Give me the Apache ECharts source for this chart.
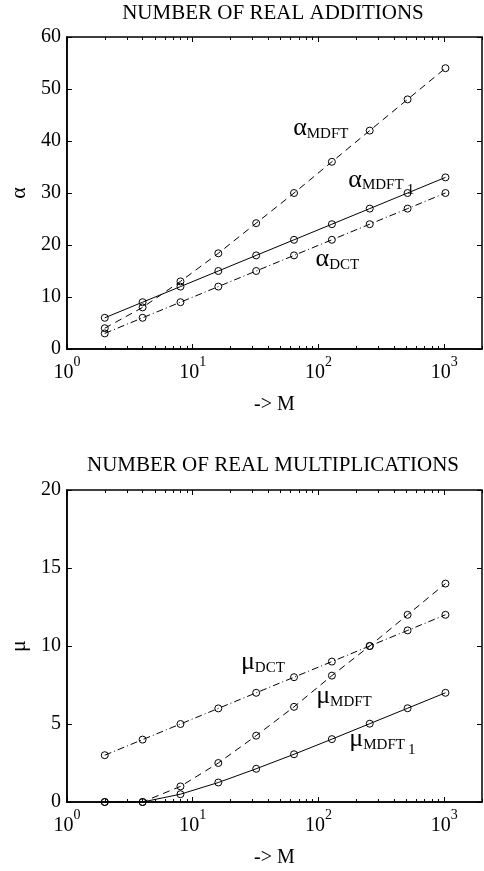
<!DOCTYPE html>
<html>
<head>
<meta charset="utf-8">
<script src="https://cdn.jsdelivr.net/npm/echarts@6.0.0/dist/echarts.min.js"></script>
<style>
html, body { margin: 0; padding: 0; background: #fff; }
#chart { width: 484px; height: 871px; }
</style>
</head>
<body>
<div id="chart"></div>
<script>
// 变换长度 M
var M = [2, 4, 8, 16, 32, 64, 128, 256, 512, 1024]
// 实数加法次数
var alphaMDFT = [4, 8, 13, 18.4, 24.2, 30, 36, 42, 48, 54]
var alphaMDFT1 = [6, 9, 12, 15, 18, 21, 24, 27, 30, 33]
var alphaDCT = [3, 6, 9, 12, 15, 18, 21, 24, 27, 30]
// 实数乘法次数
var muMDFT = [0, 0, 1, 2.5, 4.25, 6.1, 8.1, 10, 12, 14]
var muMDFT1 = [0, 0, 0.5, 1.25, 2.13, 3.06, 4.03, 5.02, 6.01, 7]
var muDCT = [3, 4, 5, 6, 7, 8, 9, 10, 11, 12]
// 刻度
var majorTicks = [1, 10, 100, 1000]
var minorTicks = [2, 3, 4, 5, 6, 7, 8, 9, 20, 30, 40, 50, 60, 70, 80, 90,
  200, 300, 400, 500, 600, 700, 800, 900, 2000]

var font = 'Liberation Serif'
var black = '#000'

function zip (ys) {
  return M.map(function (m, i) { return [m, ys[i]] })
}

var greekRich = {
  a: { fontFamily: font, fontSize: 26, lineHeight: 26, verticalAlign: 'top', color: black },
  s: { fontFamily: font, fontSize: 15, lineHeight: 15, verticalAlign: 'top', padding: [11, 0, 0, 0], color: black },
  t: { fontFamily: font, fontSize: 15, lineHeight: 15, verticalAlign: 'top', padding: [16, 0, 0, 3], color: black }
}

function xAxes (gridIndex) {
  var base = {
    type: 'log', logBase: 10, min: 1, max: 2000, gridIndex: gridIndex,
    splitLine: { show: false }, minorTick: { show: false }, minorSplitLine: { show: false },
    axisLine: { show: false, onZero: false },
    axisLabel: { show: false }
  }
  var tick = function (vals, len) {
    return { show: true, inside: true, length: len, customValues: vals, lineStyle: { color: black, width: 1 } }
  }
  return [
    Object.assign({}, base, {
      position: 'bottom',
      axisLine: { show: true, onZero: false, lineStyle: { color: black, width: 1.5 } },
      axisTick: tick(majorTicks, 5),
      axisLabel: {
        show: true,
        customValues: majorTicks,
        margin: 6,
        formatter: function (v) {
          return '{b|10}{p|' + Math.round(Math.log10(v)) + '}'
        },
        rich: {
          b: { fontFamily: font, fontSize: 20, lineHeight: 20, verticalAlign: 'top', padding: [8, 0, 0, 0], color: black },
          p: { fontFamily: font, fontSize: 14, lineHeight: 14, verticalAlign: 'top', color: black }
        }
      },
      name: '-> M',
      nameLocation: 'middle',
      nameGap: 46,
      nameTextStyle: { fontFamily: font, fontSize: 20, color: black }
    }),
    Object.assign({}, base, { position: 'bottom', axisTick: tick(minorTicks, 3) }),
    Object.assign({}, base, { position: 'top', axisTick: tick(majorTicks, 5) }),
    Object.assign({}, base, { position: 'top', axisTick: tick(minorTicks, 3) })
  ]
}

function yAxes (gridIndex, max, interval, name) {
  return [
    {
      type: 'value', gridIndex: gridIndex, position: 'left', min: 0, max: max, interval: interval,
      splitLine: { show: false },
      axisLine: { show: true, onZero: false, lineStyle: { color: black, width: 1.5 } },
      axisTick: { show: true, inside: true, length: 5, lineStyle: { color: black } },
      axisLabel: { fontFamily: font, fontSize: 20, color: black, margin: 6 },
      name: name,
      nameLocation: 'middle',
      nameGap: 36,
      nameTextStyle: { fontFamily: font, fontSize: 22, color: black }
    },
    {
      type: 'value', gridIndex: gridIndex, position: 'right', min: 0, max: max, interval: interval,
      splitLine: { show: false },
      axisLine: { show: false, onZero: false },
      axisTick: { show: true, inside: true, length: 5, lineStyle: { color: black } },
      axisLabel: { show: false }
    }
  ]
}

function line (ys, dash, xi, yi, label) {
  return {
    type: 'line',
    xAxisIndex: xi,
    yAxisIndex: yi,
    data: zip(ys),
    symbol: 'circle',
    symbolSize: 7,
    showSymbol: true,
    showAllSymbol: true,
    itemStyle: { color: 'rgba(0,0,0,0)', borderColor: black, borderWidth: 1 },
    lineStyle: { color: black, width: 1, type: dash },
    markPoint: {
      symbol: 'circle',
      symbolSize: 0,
      silent: true,
      data: [{ coord: label.at, value: 0 }],
      label: {
        show: true, position: 'inside', align: 'left', verticalAlign: 'top',
        formatter: label.text, rich: greekRich
      }
    }
  }
}

var dashed = [7, 5]
var dashDot = [7, 3, 1, 3]

var myChart = echarts.init(document.getElementById('chart'))
myChart.setOption({
  animation: false,
  backgroundColor: '#fff',
  title: [
    {
      text: 'NUMBER OF REAL ADDITIONS', left: 273, top: 3, padding: 0, textAlign: 'center',
      textStyle: { fontFamily: font, fontSize: 21, fontWeight: 'normal', color: black }
    },
    {
      text: 'NUMBER OF REAL MULTIPLICATIONS', left: 273, top: 455, padding: 0, textAlign: 'center',
      textStyle: { fontFamily: font, fontSize: 21, fontWeight: 'normal', color: black }
    }
  ],
  grid: [
    { left: 64, top: 37, width: 418, height: 312, show: true, borderColor: black, borderWidth: 1.5 },
    { left: 64, top: 490, width: 418, height: 312, show: true, borderColor: black, borderWidth: 1.5 }
  ],
  xAxis: xAxes(0).concat(xAxes(1)),
  yAxis: yAxes(0, 60, 10, 'α').concat(yAxes(1, 20, 5, 'μ')),
  series: [
    line(alphaMDFT, dashed, 0, 0, { at: [63, 44.9], text: '{a|α}{s|MDFT}' }),
    line(alphaMDFT1, 'solid', 0, 0, { at: [173, 35], text: '{a|α}{s|MDFT}{t|1}' }),
    line(alphaDCT, dashDot, 0, 0, { at: [95, 19.7], text: '{a|α}{s|DCT}' }),
    line(muMDFT, dashed, 4, 2, { at: [96, 7.6], text: '{a|μ}{s|MDFT}' }),
    line(muMDFT1, 'solid', 4, 2, { at: [176, 4.83], text: '{a|μ}{s|MDFT}{t|1}' }),
    line(muDCT, dashDot, 4, 2, { at: [24.2, 9.77], text: '{a|μ}{s|DCT}' })
  ]
})
</script>
</body>
</html>
